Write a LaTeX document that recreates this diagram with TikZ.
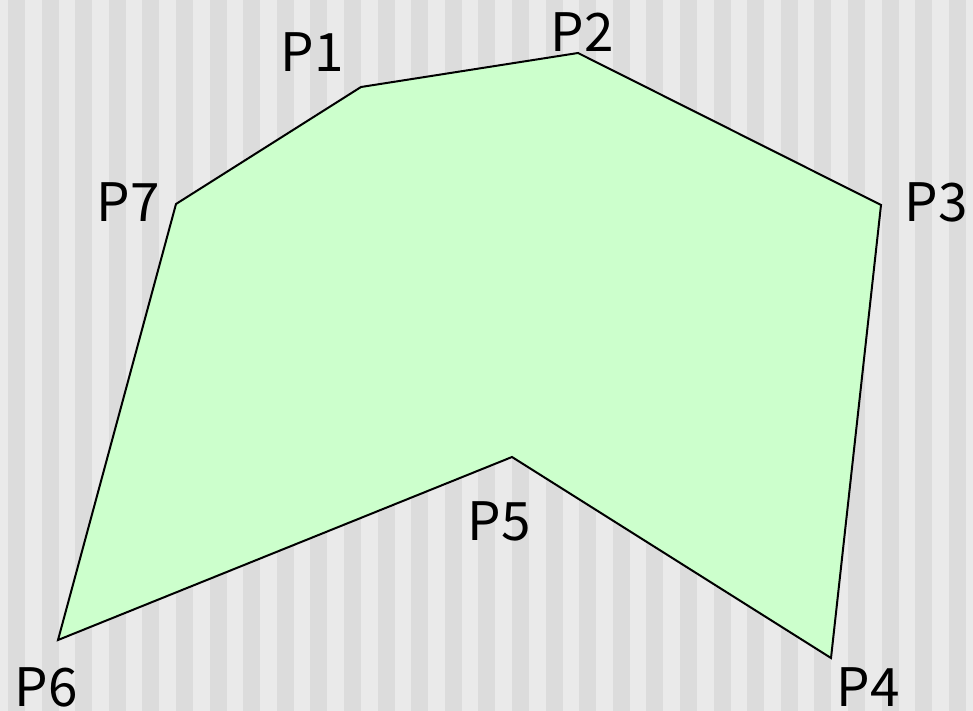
\documentclass[tikz,border=0pt]{standalone}
\usepackage{fontspec}
\setmainfont{Noto Sans CJK JP}
\usepackage{tikz}
\definecolor{stripelight}{RGB}{234,234,234}
\definecolor{stripedark}{RGB}{220,220,220}
\definecolor{polyfill}{RGB}{204,255,204}

\begin{document}
\begin{tikzpicture}[
    x=1pt, y=-1pt,
    stripe/.style={fill=stripedark},
    poly/.style={draw=black, line width=2pt, fill=polyfill, line join=miter},
    plabel/.style={anchor=base, inner sep=0pt, font=\fontsize{53}{60}\selectfont},
]
    \useasboundingbox (0,0) rectangle (973,711);
    % background
    \fill[stripelight] (0,0) rectangle (973,711);
    \foreach \i in {0,...,28}
        \fill[stripe] ({8+33.6*\i},0) rectangle ++(17,711);
    % corners
    \coordinate (p1) at (361,87);
    \coordinate (p2) at (578,53);
    \coordinate (p3) at (881,205);
    \coordinate (p4) at (831,658);
    \coordinate (p5) at (512,457);
    \coordinate (p6) at (58,640);
    \coordinate (p7) at (176,204);
    \draw[poly] (p1) -- (p2) -- (p3) -- (p4) -- (p5) -- (p6) -- (p7) -- cycle;
    % labels
    \node[plabel] (l1) at (312,72) {P1};
    \node[plabel] (l2) at (582,52) {P2};
    \node[plabel] (l3) at (936,222) {P3};
    \node[plabel] (l4) at (868,706) {P4};
    \node[plabel] (l5) at (499,540) {P5};
    \node[plabel] (l6) at (46,706) {P6};
    \node[plabel] (l7) at (128,222) {P7};
\end{tikzpicture}
\end{document}
